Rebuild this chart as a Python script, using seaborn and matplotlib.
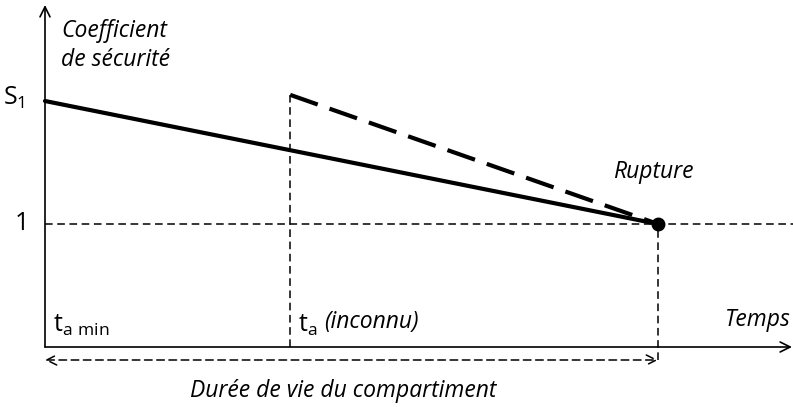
import matplotlib
matplotlib.use("Agg")
import matplotlib.pyplot as plt
import seaborn as sns
import pandas as pd

# schematic values (time normalised to rupture = 1, safety factor)
t_min = 0.0
t_a = 0.40
t_rupture = 1.0
t_end = 1.22
s1 = 2.0
s_dashed_start = 2.05
s_rupture = 1.0

solid_t = [t_min, t_rupture]
solid_s = [s1, s_rupture]
dashed_t = [t_a, t_rupture]
dashed_s = [s_dashed_start, s_rupture]

sns.set_theme(style="white")
plt.rcParams['font.family'] = ['Open Sans', 'DejaVu Sans']
plt.rcParams['mathtext.fontset'] = 'custom'
plt.rcParams['mathtext.rm'] = 'Open Sans'
plt.rcParams['text.color'] = 'black'

fig = plt.figure(figsize=(7.93, 4.07), dpi=100)
ax = fig.add_axes([0, 0, 1, 1])
ax.set_xlim(-45 / 613, 748 / 613)
ax.set_ylim(-60 / 123, 347 / 123)
ax.axis('off')

thin = (0, (5, 3))

# axes with arrows
ax.annotate('', xy=(747 / 613, 0), xytext=(0, 0),
            arrowprops=dict(arrowstyle='->', color='black', lw=1.2, mutation_scale=18,
                            shrinkA=0, shrinkB=0))
ax.annotate('', xy=(0, 342 / 123), xytext=(0, 0),
            arrowprops=dict(arrowstyle='->', color='black', lw=1.2, mutation_scale=18,
                            shrinkA=0, shrinkB=0))

# guide lines
ax.plot([t_min, t_end], [s_rupture, s_rupture], color='black', lw=1.1, ls=thin, zorder=1)
ax.plot([t_a, t_a], [0, s_dashed_start], color='black', lw=1.1, ls=thin)
ax.plot([t_rupture, t_rupture], [-13 / 123, s_rupture], color='black', lw=1.1, ls=thin)

# main curves
df_solid = pd.DataFrame({'t': solid_t, 's': solid_s})
df_dashed = pd.DataFrame({'t': dashed_t, 's': dashed_s})
sns.lineplot(data=df_solid, x='t', y='s', ax=ax, color='black', lw=3)
sns.lineplot(data=df_dashed, x='t', y='s', ax=ax, color='black', lw=3,
             linestyle=(0, (7, 3)))
ax.plot([t_rupture], [s_rupture], 'o', color='black', ms=9, zorder=5)

# lifetime double arrow
ax.annotate('', xy=(t_rupture, -13 / 123), xytext=(t_min, -13 / 123),
            arrowprops=dict(arrowstyle='<->', color='black', lw=1.1, ls=thin,
                            mutation_scale=18, shrinkA=0, shrinkB=0))

# texts
ax.text(16 / 613, 328 / 123, 'Coefficient\nde sécurité', style='italic', fontsize=16.5,
        va='top', ha='left', linespacing=1.3)
ax.text(-42 / 613, s1 + 3 / 123, 'S$_1$', fontsize=18, va='center', ha='left')
ax.text(-30 / 613, s_rupture, '1', fontsize=18, va='center', ha='left')
ax.text(8 / 613, 22 / 123, 't$_\\mathregular{a\\ min}$', fontsize=18, va='center', ha='left')
ax.text(t_a + 8 / 613, 22 / 123, 't$_\\mathregular{a}$', fontsize=18, va='center', ha='left')
ax.text(t_a + 34 / 613, 25 / 123, '(inconnu)', style='italic', fontsize=16.5, va='center', ha='left')
ax.text(746 / 613, 27 / 123, 'Temps', style='italic', fontsize=16.5, va='center', ha='right')
ax.text(608 / 613, 175 / 123, 'Rupture', style='italic', fontsize=16.5, va='center', ha='center')
ax.text(298 / 613, -44 / 123, 'Durée de vie du compartiment', style='italic', fontsize=16.5,
        va='center', ha='center')

fig.savefig('out.png', dpi=100)
